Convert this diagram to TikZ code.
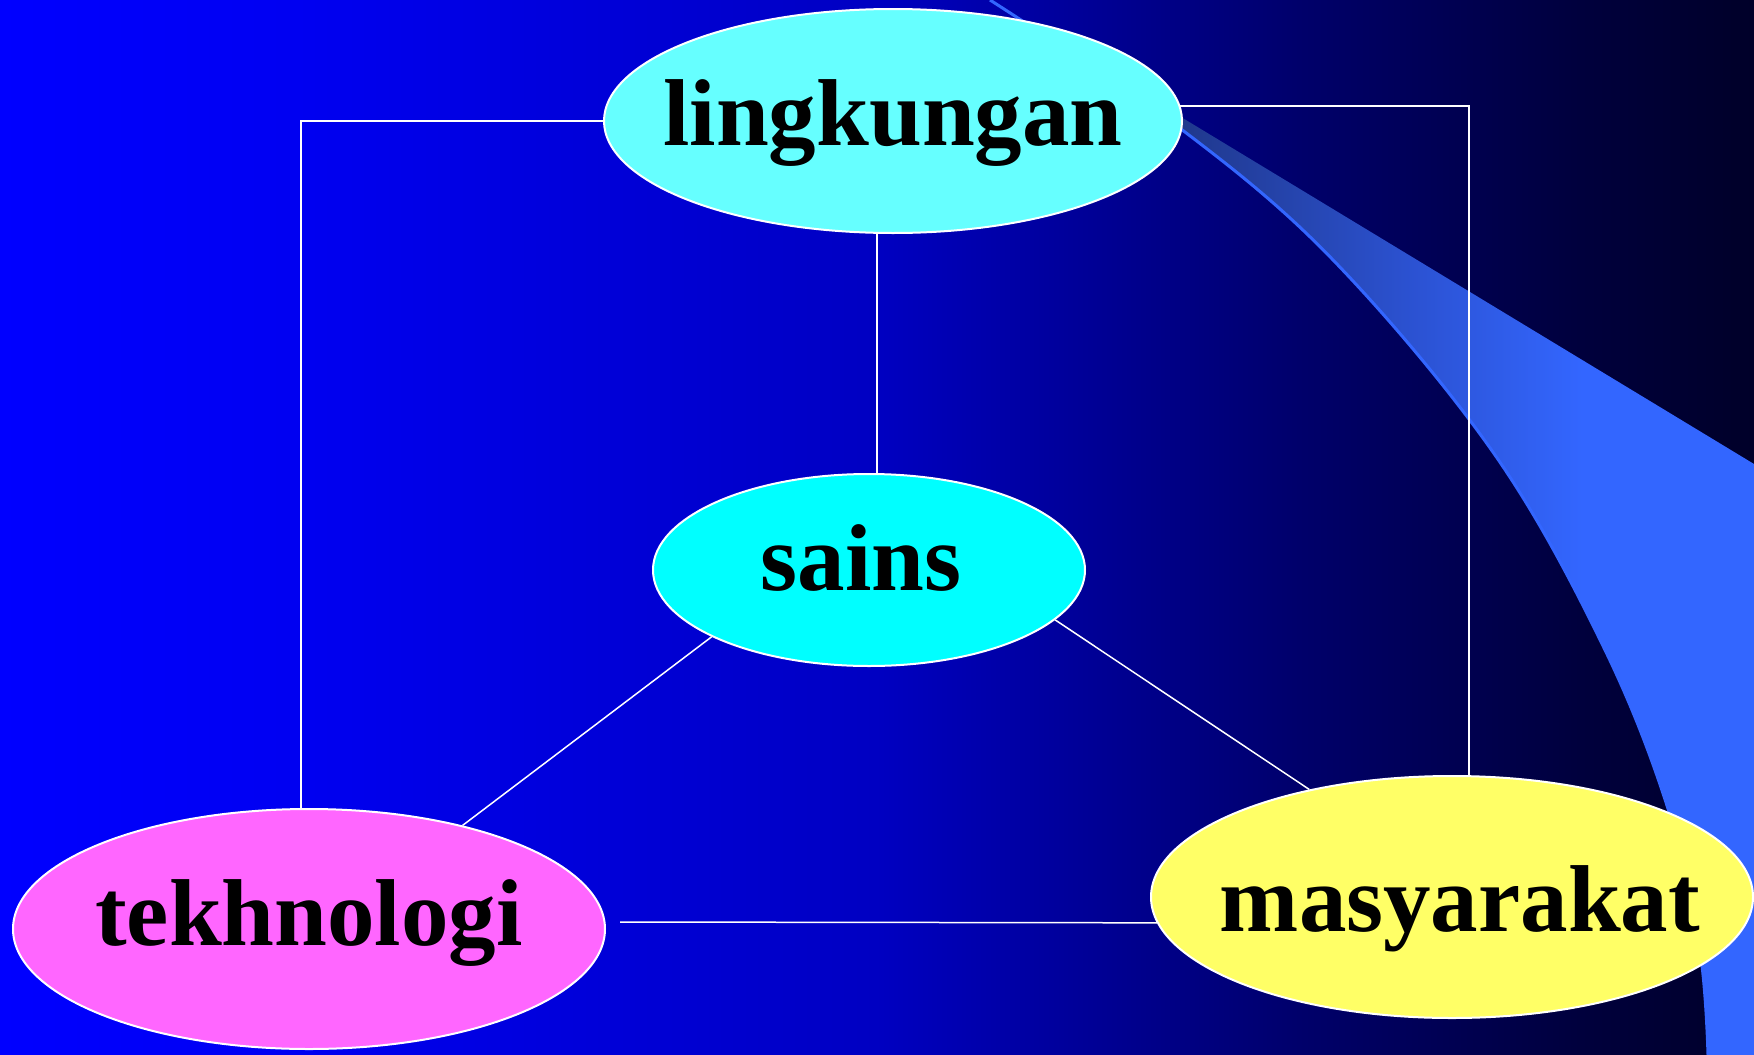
\documentclass[tikz,border=0pt]{standalone}
\usepackage{fontspec}
\setmainfont{Liberation Serif}
\usetikzlibrary{shapes.geometric}

\definecolor{lingfill}{RGB}{102,255,255}
\definecolor{sainsfill}{RGB}{0,255,255}
\definecolor{tekfill}{RGB}{255,102,255}
\definecolor{masfill}{RGB}{255,255,102}
\definecolor{beamedge}{RGB}{51,102,255}

% backdrop: bright blue on the left fading to near black on the right
\pgfdeclarehorizontalshading{bgfade}{100bp}{rgb(0bp)=(0,0,1); rgb(25bp)=(0,0,1);
  rgb(33bp)=(0,0,0.95); rgb(50bp)=(0,0,0.76); rgb(62bp)=(0,0,0.42);
  rgb(70bp)=(0,0,0.24); rgb(75bp)=(0,0,0.16); rgb(100bp)=(0,0,0.16)}
% light beam: greyish blue near its tip, bright blue further out
\pgfdeclarehorizontalshading{beamfade}{100bp}{rgb(0bp)=(0.125,0.22,0.55); rgb(25bp)=(0.125,0.22,0.55);
  rgb(45bp)=(0.17,0.32,0.82); rgb(60bp)=(0.2,0.4,1); rgb(100bp)=(0.2,0.4,1)}

\begin{document}
\begin{tikzpicture}[x=1pt,y=-1pt,
  link/.style={draw=white,line width=1.5pt},
  blob/.style={ellipse,draw=white,line width=2pt,inner sep=0pt},
  word/.style={anchor=base,inner sep=0pt,text=black,font=\fontsize{95}{100}\selectfont\bfseries}]
\useasboundingbox (0,0) rectangle (1754,1055);
\shade[shading=bgfade] (0,0) rectangle (1754,1055);

% the beam
\shade[shading=beamfade] (1181,117) -- (1754,464) -- (1754,1055) -- (1708,1055)
  -- plot[smooth,tension=0.6] coordinates {(1708,1055) (1700,951) (1670,815) (1605,650) (1495,455) (1335,262) (1181,129)} -- cycle;
\draw[beamedge,line width=3pt] plot[smooth,tension=0.6] coordinates
  {(990,0) (1181,129) (1335,262) (1495,455) (1605,650) (1670,815) (1700,951) (1708,1055)};

% the four ellipses
\node[blob,fill=lingfill,minimum width=578pt,minimum height=224pt] (L) at (893,121) {};
\node[blob,fill=sainsfill,minimum width=432pt,minimum height=192pt] (S) at (869,570) {};
\node[blob,fill=tekfill,minimum width=592pt,minimum height=240pt] (T) at (309,929) {};
\node[blob,fill=masfill,minimum width=602pt,minimum height=242pt] (M) at (1452,897) {};

% their words
\node[word] (Lw) at ([shift={(0,24)}]L.center) {lingkungan};
\node[word] (Sw) at ([shift={(-8,20)}]S.center) {sains};
\node[word] (Tw) at ([shift={(0,16)}]T.center) {tekhnologi};
\node[word] (Mw) at ([shift={(8,34)}]M.center) {masyarakat};

% connectors
\draw[link] (L.west) -| ([xshift=-8pt]T.north);
\draw[link] (L.3) -| ([xshift=17pt]M.north);
\draw[link] ([xshift=8pt]S.north) -- ([xshift=8pt]S.north |- L.south);
\draw[link] (S.203) -- (T.34);
\draw[link] (S.-15) -- (M.143);
\coordinate (gap) at (620,922);
\draw[link] (gap) -- (M.185);
\end{tikzpicture}
\end{document}
